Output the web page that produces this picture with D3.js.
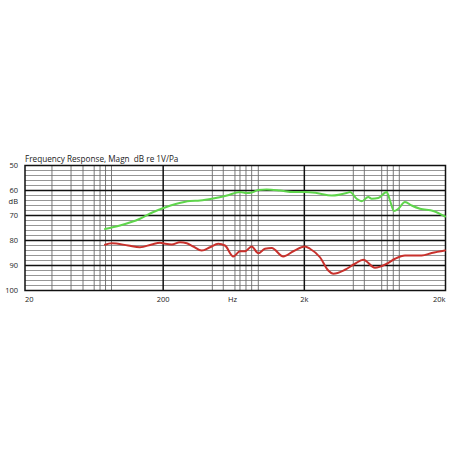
<!DOCTYPE html>
<html>
<head>
<meta charset="utf-8">
<script src="https://cdn.jsdelivr.net/npm/d3@7"></script>
<style>
  html, body { margin: 0; padding: 0; background: #fff; }
  svg { display: block; }
  text { font-family: "Open Sans", "Noto Sans", sans-serif; fill: #222; white-space: pre; }
</style>
</head>
<body>
<svg id="chart" width="458" height="458"></svg>
<script>
// ---- data ----
const title = "Frequency Response, Magn  dB re 1V/Pa";
const yTickValues = [50, 60, 70, 80, 90, 100];
const yUnitLabel = "dB";
const xTickLabels = [
  { f: 21, label: "20" },
  { f: 200, label: "200" },
  { f: 620, label: "Hz" },
  { f: 2000, label: "2k" },
  { f: 20000, label: "20k" }
];
const majorFreqs = [200, 2000];
const minorFreqs = [32.6, 44.5, 54.1, 64.9, 71.4, 78.1, 86.1,
                    446, 533, 645, 700, 772, 847, 944,
                    4445, 5320, 7063, 7739, 8535, 9414];
const majorDb = [60, 70, 80, 90];
const minorDb = [52, 54, 56, 58, 62, 64, 66, 68, 72, 74, 76, 78, 82, 84, 86, 88, 92, 94, 96, 98];

const greenFreq = [77.4, 98.9, 137, 169, 201, 249, 310, 365, 451, 566, 700, 781, 847, 944, 1082, 1344, 1670, 2021, 2446, 3125, 3990, 4211, 4697, 5096, 5677, 6001, 6682, 7665, 8087, 8633, 9261, 10328, 11521, 13192, 16386, 19835];
const greenDb   = [75.4, 74.0, 71.3, 68.7, 67.0, 65.3, 64.2, 64.0, 63.2, 62.0, 60.6, 61.0, 60.8, 59.8, 59.6, 60.0, 60.6, 60.6, 61.0, 62.0, 61.0, 60.6, 63.3, 64.3, 62.6, 63.3, 63.0, 60.6, 64.0, 68.2, 67.3, 64.6, 66.0, 67.3, 68.2, 70.4];

const redFreq = [77.4, 86.4, 113, 137, 166, 190, 206, 230, 263, 294, 327, 375, 429, 491, 548, 628, 700, 760, 847, 944, 1053, 1175, 1419, 1670, 2021, 2193, 2582, 2956, 3208, 3883, 4569, 5233, 6332, 7665, 8775, 10328, 13562, 15964, 19835];
const redDb   = [81.7, 81.1, 82.0, 82.7, 81.6, 80.9, 81.3, 81.6, 80.7, 81.1, 82.4, 84.0, 82.7, 81.3, 82.0, 86.4, 84.3, 84.3, 82.4, 85.1, 83.3, 83.0, 86.4, 84.3, 82.4, 83.3, 86.7, 92.0, 93.3, 91.7, 89.3, 87.7, 90.9, 89.3, 87.3, 86.0, 86.0, 85.0, 84.0];

// ---- layout ----
const svg = d3.select("#chart");
const x = d3.scaleLog().domain([21, 20000]).range([25, 445.5]);
const y = d3.scaleLinear().domain([50, 100]).range([165.5, 290.5]);
const [x0, x1] = x.range();
const [y0, y1] = y.range();

const g = svg.append("g");

// minor horizontal grid
g.selectAll(".hmin").data(minorDb).join("line")
  .attr("x1", x0).attr("x2", x1)
  .attr("y1", d => y(d)).attr("y2", d => y(d))
  .attr("stroke", "#8a8a8a").attr("stroke-width", 0.9);

// minor vertical grid
g.selectAll(".vmin").data(minorFreqs).join("line")
  .attr("x1", d => x(d)).attr("x2", d => x(d))
  .attr("y1", y0).attr("y2", y1)
  .attr("stroke", "#6a6a6a").attr("stroke-width", 0.9);

// major horizontal
g.selectAll(".hmaj").data(majorDb).join("line")
  .attr("x1", x0).attr("x2", x1)
  .attr("y1", d => y(d)).attr("y2", d => y(d))
  .attr("stroke", "#111").attr("stroke-width", 1.5);

// major vertical
g.selectAll(".vmaj").data(majorFreqs).join("line")
  .attr("x1", d => x(d)).attr("x2", d => x(d))
  .attr("y1", y0).attr("y2", y1)
  .attr("stroke", "#111").attr("stroke-width", 1.5);

// frame
g.append("rect")
  .attr("x", x0).attr("y", y0)
  .attr("width", x1 - x0).attr("height", y1 - y0)
  .attr("fill", "none").attr("stroke", "#111").attr("stroke-width", 1.5);

// curves
const line = d3.line().curve(d3.curveMonotoneX);
const greenPts = greenFreq.map((f, i) => [x(f), y(greenDb[i])]);
const redPts = redFreq.map((f, i) => [x(f), y(redDb[i])]);

g.append("path").attr("d", line(redPts))
  .attr("fill", "none").attr("stroke", "#c8312c").attr("stroke-width", 2)
  .attr("stroke-linejoin", "round").attr("stroke-linecap", "round");
g.append("path").attr("d", line(greenPts))
  .attr("fill", "none").attr("stroke", "#5fd54c").attr("stroke-width", 2)
  .attr("stroke-linejoin", "round").attr("stroke-linecap", "round");

// title
svg.append("text").attr("x", x0).attr("y", 161.5)
  .attr("font-size", 8.2).attr("xml:space", "preserve").text(title);

// y labels
svg.selectAll(".ylab").data(yTickValues).join("text")
  .attr("x", 18).attr("y", d => y(d))
  .attr("dy", "0.35em").attr("text-anchor", "end")
  .attr("font-size", 7.5).text(d => d);
svg.append("text").attr("x", 18).attr("y", (y(60) + y(70)) / 2 - 2)
  .attr("dy", "0.35em").attr("text-anchor", "end")
  .attr("font-size", 7.5).text(yUnitLabel);

// x labels
svg.selectAll(".xlab").data(xTickLabels).join("text")
  .attr("x", d => x(d.f)).attr("y", 302)
  .attr("text-anchor", (d, i) => i === 0 ? "start" : (i === xTickLabels.length - 1 ? "end" : "middle"))
  .attr("font-size", 7.5).text(d => d.label);
</script>
</body>
</html>
